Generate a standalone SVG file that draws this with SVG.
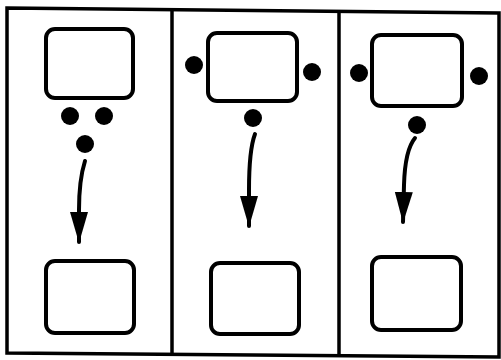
<svg xmlns="http://www.w3.org/2000/svg" width="501" height="360" viewBox="0 0 501 360">
<style>
.frame{fill:none;stroke:#000;stroke-width:3.5;stroke-linejoin:miter}
.box{fill:#fff;stroke:#000;stroke-width:4}
.dot{fill:#000}
.conn{fill:none;stroke:#000;stroke-width:4;stroke-linecap:round}
</style>
<defs>
<marker id="arr" markerUnits="userSpaceOnUse" markerWidth="32" markerHeight="20" refX="30" refY="10" orient="auto" viewBox="0 0 32 20">
<path d="M0,1 L31,10 L0,19 z" fill="#000"/>
</marker>
</defs>
<rect width="501" height="360" fill="#fff"/>
<g id="frame">
<polygon class="frame" points="7,8 499,13 499,357 7,353"/>
<line class="frame" x1="172" y1="10" x2="172" y2="355"/>
<line class="frame" x1="339" y1="12" x2="339" y2="356"/>
</g>
<g id="panel1-top"><rect class="box" x="46" y="29" width="87" height="69" rx="9"/></g>
<g id="panel1-dots">
<circle class="dot" cx="70" cy="116" r="9"/>
<circle class="dot" cx="104" cy="116" r="9"/>
<circle class="dot" cx="85" cy="144" r="9"/>
</g>
<g id="panel1-bottom"><rect class="box" x="46" y="261" width="88" height="72" rx="9"/></g>
<g id="panel2-top"><rect class="box" x="208" y="33" width="89" height="68" rx="9"/></g>
<g id="panel2-dots">
<circle class="dot" cx="194" cy="65" r="9"/>
<circle class="dot" cx="312" cy="72" r="9"/>
<circle class="dot" cx="253" cy="118" r="9"/>
</g>
<g id="panel2-bottom"><rect class="box" x="211" y="263" width="88" height="71" rx="9"/></g>
<g id="panel3-top"><rect class="box" x="372" y="35" width="90" height="71" rx="9"/></g>
<g id="panel3-dots">
<circle class="dot" cx="359" cy="73" r="9"/>
<circle class="dot" cx="479" cy="76" r="9"/>
<circle class="dot" cx="417" cy="125" r="9"/>
</g>
<g id="panel3-bottom"><rect class="box" x="372" y="257" width="89" height="73" rx="9"/></g>
<g id="connectors">
<path class="conn" d="M85,161 Q79,180 79,210 L79,242" marker-end="url(#arr)"/>
<path class="conn" d="M255,134 Q249,150 249,190 L249,226" marker-end="url(#arr)"/>
<path class="conn" d="M415,138 Q405,150 404,185 L403,222" marker-end="url(#arr)"/>
</g>
</svg>
